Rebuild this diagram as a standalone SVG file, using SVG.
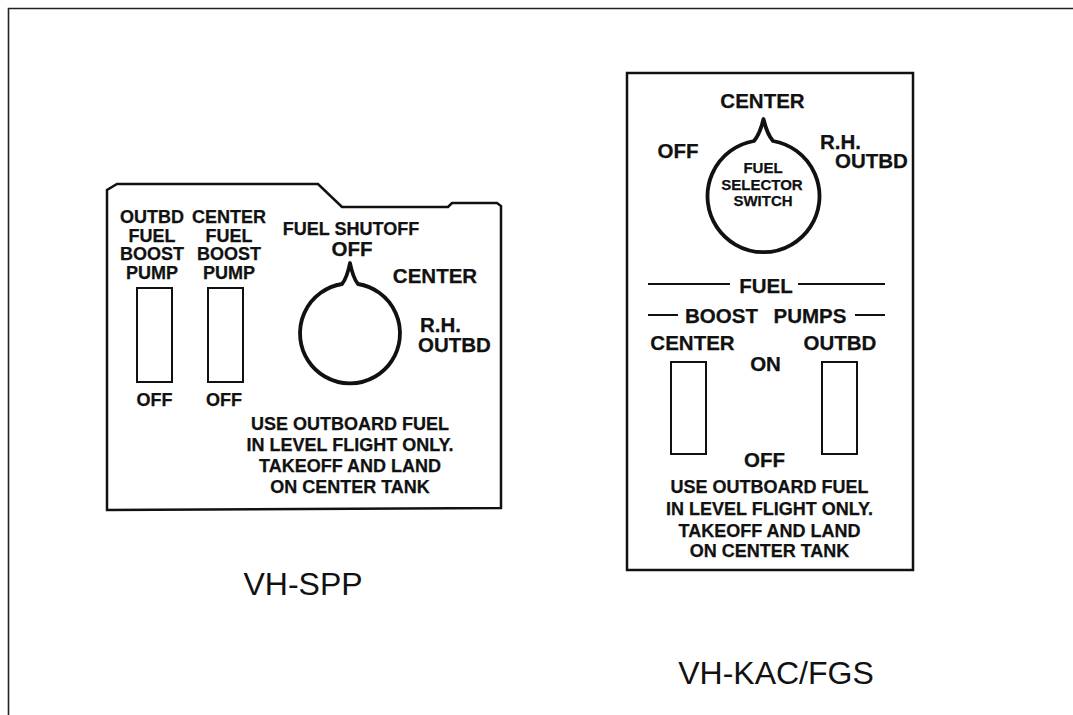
<svg xmlns="http://www.w3.org/2000/svg" width="1073" height="715" viewBox="0 0 1073 715">
<style>
.b{font-family:"Liberation Sans",Arial,sans-serif;font-weight:bold;fill:#111;text-anchor:middle;stroke:#111;stroke-width:0.25}
.s18{font-size:18px}
.s20{font-size:20.5px}
.s15{font-size:15px}
.cap{font-family:"Liberation Sans",Arial,sans-serif;font-size:32px;fill:#111;text-anchor:middle}
.ln{fill:none;stroke:#111;stroke-width:2.5}
.sw{fill:#fff;stroke:#111;stroke-width:2}
.knob{fill:#fff;stroke:#111;stroke-width:3.8;stroke-linejoin:round}
</style>
<rect width="1073" height="715" fill="#fff"/>
<path d="M8.5 715 V8.5 H1073" fill="none" stroke="#222" stroke-width="1.6"/>

<g id="panel-vh-spp">
<path class="ln" d="M107 510 V190 L117 184 H318 L342 207 H448 L452 203 H497 L501 206 V508 Z"/>
<text class="b s18" x="152" y="223">OUTBD</text>
<text class="b s18" x="152" y="241.5">FUEL</text>
<text class="b s18" x="152" y="260">BOOST</text>
<text class="b s18" x="152" y="278.5">PUMP</text>
<text class="b s18" x="229" y="223">CENTER</text>
<text class="b s18" x="229" y="241.5">FUEL</text>
<text class="b s18" x="229" y="260">BOOST</text>
<text class="b s18" x="229" y="278.5">PUMP</text>
<rect class="sw" x="137" y="288" width="35" height="94"/>
<rect class="sw" x="208" y="288" width="35" height="94"/>
<text class="b s18" x="154.5" y="406">OFF</text>
<text class="b s18" x="224" y="406">OFF</text>
<text class="b s18" x="351" y="235">FUEL SHUTOFF</text>
<text class="b s20" x="352" y="256">OFF</text>
<text class="b s20" x="435" y="283">CENTER</text>
<text class="b s20" x="420" y="332" style="text-anchor:start">R.H.</text>
<text class="b s20" x="418" y="351.5" style="text-anchor:start">OUTBD</text>
<path class="knob" d="M342 284 Q347 278 350 263 Q353 278 358 284 A50 50 0 1 1 342 284 Z"/>
<text class="b s18" x="350" y="430">USE OUTBOARD FUEL</text>
<text class="b s18" x="350" y="451">IN LEVEL FLIGHT ONLY.</text>
<text class="b s18" x="350" y="472">TAKEOFF AND LAND</text>
<text class="b s18" x="350" y="493">ON CENTER TANK</text>
</g>
<text id="label-vh-spp" class="cap" x="303" y="595">VH-SPP</text>

<g id="panel-vh-kac">
<rect class="ln" x="627" y="73" width="286" height="497"/>
<text class="b s20" x="762.5" y="108.3">CENTER</text>
<text class="b s20" x="678" y="158.3">OFF</text>
<text class="b s20" x="820" y="149" style="text-anchor:start">R.H.</text>
<text class="b s20" x="835" y="168.3" style="text-anchor:start">OUTBD</text>
<path class="knob" d="M754 141 Q760 134 763.5 119 Q767 134 773 141 A56 56 0 1 1 754 141 Z"/>
<text class="b s15" x="763" y="173.3">FUEL</text>
<text class="b s15" x="762" y="189.5">SELECTOR</text>
<text class="b s15" x="763" y="205.5">SWITCH</text>
<line x1="648" y1="284" x2="730" y2="284" stroke="#111" stroke-width="2"/>
<line x1="798" y1="284" x2="885" y2="284" stroke="#111" stroke-width="2"/>
<text class="b s20" x="766" y="293.3">FUEL</text>
<line x1="648" y1="315" x2="678" y2="315" stroke="#111" stroke-width="2"/>
<line x1="855" y1="315" x2="885" y2="315" stroke="#111" stroke-width="2"/>
<text class="b s20" x="721.5" y="323.3">BOOST</text>
<text class="b s20" x="810" y="323.3">PUMPS</text>
<text class="b s20" x="692.5" y="350">CENTER</text>
<text class="b s20" x="840" y="350">OUTBD</text>
<text class="b s20" x="765.5" y="370.7">ON</text>
<rect class="sw" x="671" y="362" width="35" height="92"/>
<rect class="sw" x="822" y="362" width="35" height="92"/>
<text class="b s20" x="764.5" y="466.7">OFF</text>
<text class="b s18" x="769.5" y="492.7">USE OUTBOARD FUEL</text>
<text class="b s18" x="769.5" y="515">IN LEVEL FLIGHT ONLY.</text>
<text class="b s18" x="769.5" y="536.7">TAKEOFF AND LAND</text>
<text class="b s18" x="769.5" y="556.7">ON CENTER TANK</text>
</g>
<text id="label-vh-kac" class="cap" x="776" y="684">VH-KAC/FGS</text>
</svg>
